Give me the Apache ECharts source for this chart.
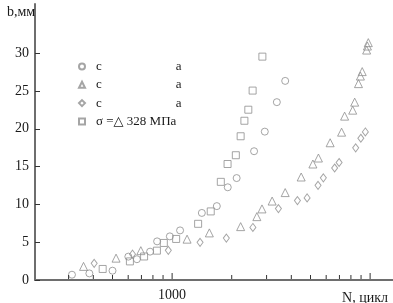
<!DOCTYPE html>
<html><head><meta charset="utf-8">
<script src="https://cdn.jsdelivr.net/npm/echarts@6/dist/echarts.min.js"></script>
<style>html,body{margin:0;padding:0;background:#fff}#c{width:393px;height:303px}</style>
</head><body><div id="c"></div>
<script>
// Data: [N (cycles), b (mm)]
const circleN = [312,382,500,601,664,774,840,974,1097,1413,1682,1910,2118,2594,2938,3380,3725];
const circleB = [0.70,0.87,1.23,3.09,2.75,3.75,5.11,5.77,6.56,8.87,9.77,12.26,13.48,17.03,19.62,23.52,26.33];
const triN = [357,521,695,1190,1542,2219,2679,2844,3200,3725,4486,5140,5483,6283,7177,7435,8167,8357,8734,8934,9123,9603,9692,9793];
const triB = [1.80,2.89,3.88,5.40,6.23,7.06,8.38,9.40,10.44,11.56,13.62,15.34,16.13,18.15,19.55,21.67,22.46,23.52,25.97,26.97,27.56,30.41,30.94,31.39];
const diaN = [404,631,957,1384,1879,2558,3443,4295,4806,5457,5805,6620,6972,8455,8977,9461];
const diaB = [2.20,3.42,3.92,4.98,5.54,6.95,9.44,10.50,10.86,12.52,13.51,14.81,15.54,17.48,18.75,19.58];
const sqN = [446,612,722,838,908,1048,1353,1567,1762,1906,2098,2219,2318,2426,2551,2857];
const sqB = [1.46,2.46,3.11,3.88,4.90,5.43,7.43,9.07,12.98,15.34,16.50,19.01,21.06,22.52,25.05,29.54];
const yTicks = [0,5,10,15,20,25,30];
const xMinorTicks = [300,400,500,600,700,800,900,2000,3000,4000,5000,6000,7000,8000,9000];
const xMajorTicks = [1000,10000];
const legendNames = ['s1','s2','s3','s4'];

const zip = (a,b) => a.map((v,i)=>[v,b[i]]);
const mk = '#8f8f8f';
const serif = '"Liberation Serif","DejaVu Serif",serif';
function sc(name, sym, size, n, b){
  return {name, type:'scatter', symbol:sym, symbolSize:size, data:zip(n,b),
    itemStyle:{color:'rgba(255,255,255,0)', borderColor:mk, borderWidth:1}, z:3};
}
const tickData = xMinorTicks.map(v=>[v,0,4]).concat(xMajorTicks.map(v=>[v,0,6]));
const chart = echarts.init(document.getElementById('c'), null, {renderer:'canvas'});
chart.setOption({
  animation:false,
  backgroundColor:'#fff',
  title:[
    {text:'b,мм', left:2, top:0, textStyle:{fontFamily:serif, fontSize:14, fontWeight:'normal', color:'#1a1a1a'}},
    {text:'N, цикл', right:0, top:286, textStyle:{fontFamily:serif, fontSize:14, fontWeight:'normal', color:'#1a1a1a'}}
  ],
  grid:{left:35, right:0, top:4, bottom:23, containLabel:false, outerBoundsMode:'none'},
  legend:{
    orient:'vertical', left:73, top:55, itemWidth:6, itemHeight:6, itemGap:5.3,
    data:legendNames,
    formatter: n => n==='s4' ? '{g|}{t|σ =△ 328 МПа}' : '{g|}{t|c}{sp|}{t|a}',
    textStyle:{fontFamily:serif, fontSize:13, color:'#1a1a1a', lineHeight:13,
      rich:{t:{fontFamily:serif, fontSize:13, color:'#1a1a1a', lineHeight:13},
            g:{width:6, lineHeight:13},
            sp:{width:74, lineHeight:13}}}
  },
  xAxis:{type:'log', logBase:10, min:203, max:13050,
    axisLine:{lineStyle:{color:'#6e6e6e', width:2}},
    axisTick:{show:false}, splitLine:{show:false},
    axisLabel:{margin:8, fontFamily:serif, fontSize:14, color:'#1a1a1a',
      formatter: v => Math.abs(v-1000)<0.5 ? '1000' : ''}
  },
  yAxis:{type:'value', min:0, max:36.5, interval:5,
    axisLine:{show:true, lineStyle:{color:'#6e6e6e', width:2}},
    axisTick:{show:true, inside:true, length:5, lineStyle:{color:'#333'}, customValues:yTicks},
    splitLine:{show:false},
    axisLabel:{margin:6, fontFamily:serif, fontSize:14, color:'#1a1a1a', customValues:yTicks}
  },
  series:[
    sc('s1','circle',7,circleN,circleB),
    sc('s2','triangle',8,triN,triB),
    sc('s3','diamond',[6,8],diaN,diaB),
    sc('s4','rect',7,sqN,sqB),
    {type:'custom', silent:true, data:tickData, z:5, clip:false,
      renderItem:(params, api)=>{
        const p = api.coord([api.value(0), api.value(1)]);
        const len = api.value(2);
        return {type:'line', shape:{x1:p[0], y1:p[1]-1, x2:p[0], y2:p[1]-1-len},
          style:{stroke:'#333', lineWidth:1}};
      }}
  ]
});
</script></body></html>
